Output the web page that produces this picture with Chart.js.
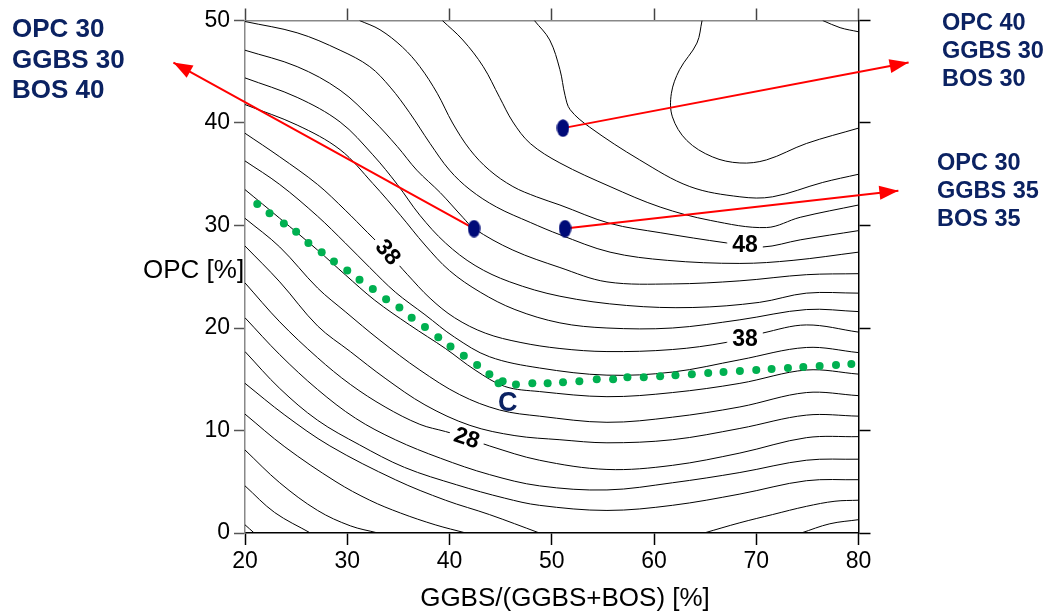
<!DOCTYPE html>
<html>
<head>
<meta charset="utf-8">
<script src="https://cdn.jsdelivr.net/npm/chart.js@4.4.1/dist/chart.umd.min.js"></script>
<style>
  html, body { margin: 0; padding: 0; background: #fff; }
  #wrap { position: relative; width: 1048px; height: 615px; }
</style>
</head>
<body>
<div id="wrap"><canvas id="chart" width="1048" height="615"></canvas></div>
<script>
// axis ticks
const xTickValues = [20, 30, 40, 50, 60, 70, 80];
const yTickValues = [0, 10, 20, 30, 40, 50];

// contour lines, step 2 as [GGBS share, OPC]
const c56 = [[76.5,50],[78.2,49.3],[80,48.9]];
const c54 = [[64.7,50],[64.2,47.8],[62.5,45.2],[61.7,42.9],[61.8,40.6],[63.2,38.3],[65.7,36.7],[68.4,36.1],[71.0,36.4],[74.9,38.0],[80,39.5]];
const c52 = [[48.3,50],[49.8,48.1],[50.8,45.2],[51.3,42.7],[51.8,41.3],[53.7,39.6],[58.6,36.4],[63.5,33.8],[68.4,32.8],[71.6,32.8],[76.5,34.2],[80,35.0]];
const c50 = [[39.3,50],[41.3,48.1],[43.3,45.5],[44.9,42.5],[46.2,40.1],[47.9,38.0],[50.8,36.1],[55.7,33.8],[60.6,31.8],[65.5,30.5],[71.0,29.8],[74.3,30.8],[80,32.0]];
const c48 = [[31.2,50],[33.2,49.1],[35.4,47.4],[37.1,45.5],[38.8,42.9],[40.3,40.0],[42.0,37.4],[43.9,35.4],[46.2,33.8],[48.5,32.8],[50.8,32.0],[55.7,30.2],[60.6,29.3],[67.1,28.3],[70.6,27.9],[74.3,28.6],[80,29.5]];
const c46 = [[20,49.9],[25.1,48.8],[29.3,47.1],[32.2,45.5],[34.2,43.5],[36.1,41.0],[38.1,38.0],[40.0,35.4],[42.0,33.5],[44.6,31.8],[47.9,30.3],[50.8,29.1],[55.7,27.4],[61.3,26.6],[68.4,26.3],[73.6,26.6],[80,27.4]];
const c44 = [[20,47.1],[25.1,45.5],[29.3,43.2],[32.5,40.3],[34.9,37.7],[36.8,35.4],[39.1,33.2],[41.3,30.8],[42.4,29.7],[46.2,27.6],[50.8,25.9],[55.4,24.5],[61.8,24.3],[68.4,24.6],[74.9,25.2],[80,25.3]];
const c42 = [[20,44.4],[25.1,42.5],[29.3,40.1],[32.5,36.9],[34.9,34.0],[37.1,31.0],[39.6,28.3],[42.5,26.1],[45.9,24.5],[50.8,23.1],[57.3,22.2],[63.8,22.0],[70.3,22.5],[74.9,23.4],[80,23.4]];
const c40 = [[20,41.8],[25.1,39.8],[29.3,37.4],[32.5,34.1],[35.2,31.0],[37.6,28.1],[40.0,25.6],[43.0,23.5],[46.4,21.8],[50.8,20.5],[55.4,20.0],[61.8,20.0],[68.4,20.8],[74.9,21.8],[80,21.6]];
const c38 = [[20,39.0],[23.4,36.7],[27.1,34.0],[29.8,31.5],[32.0,29.3],[34.0,27.3],[35.9,25.2],[38.1,22.9],[40.5,21.0],[43.5,19.5],[46.9,18.6],[50.8,18.0],[55.4,17.7],[61.8,17.9],[67.1,18.6],[70.6,19.5],[74.9,20.3],[80,19.6]];
const c36 = [[20,36.3],[23.4,34.0],[27.1,30.9],[29.8,28.3],[32.2,25.9],[34.7,23.5],[37.6,21.3],[40.5,19.1],[43.9,17.2],[48.8,16.1],[55.4,15.4],[61.8,15.7],[68.4,16.9],[74.9,18.1],[80,17.6]];
const c34 = [[20,33.5],[23.4,30.7],[27.1,27.6],[29.8,25.2],[32.7,22.7],[36.1,20.3],[39.6,18.0],[42.5,15.9],[45.4,14.3],[48.8,13.8],[55.4,13.3],[61.8,13.7],[68.4,14.6],[74.9,15.9],[80,15.5]];
const c32 = [[20,30.7],[23.4,27.9],[27.1,23.9],[29.8,21.6],[33.2,18.8],[37.1,15.9],[41.0,13.5],[44.9,12.0],[48.8,11.4],[55.4,10.8],[61.8,11.3],[68.4,12.3],[74.9,13.7],[80,13.4]];
const c30 = [[20,28.0],[23.4,24.5],[27.1,20.2],[30.3,17.7],[33.7,15.1],[37.6,12.5],[42.0,10.5],[46.4,9.5],[50.8,9.1],[55.4,8.8],[61.8,9.1],[68.4,10.2],[74.9,11.5],[80,11.4]];
const c28 = [[20,24.4],[23.4,20.6],[27.1,17.1],[30.3,14.5],[33.7,12.3],[37.1,10.6],[39.6,9.9],[41.7,9.3],[43.9,8.5],[48.8,7.1],[55.4,6.2],[61.8,6.6],[68.4,7.8],[74.9,9.3],[80,9.4]];
const c26 = [[20,21.0],[23.4,17.4],[27.1,14.0],[30.8,11.2],[34.7,9.1],[39.1,7.3],[43.9,5.7],[48.8,4.6],[55.4,4.2],[61.8,4.9],[68.4,5.9],[74.9,7.1],[80,7.2]];
const c24 = [[20,17.7],[23.4,14.1],[27.1,11.0],[31.2,8.6],[35.6,6.4],[40.7,4.7],[45.4,3.4],[48.8,2.7],[55.4,2.2],[61.8,2.7],[68.4,3.8],[74.9,5.1],[80,5.2]];
const c22a = [[20,14.6],[23.9,11.5],[28.3,8.5],[34.7,5.2],[39.6,3.2],[43.9,1.8],[48.8,0]];
const c22b = [[64.9,0],[68.4,1.0],[71.6,1.8],[74.9,2.6],[77.7,3.1],[80,3.2]];
const c20a = [[20,11.6],[23.9,8.4],[28.9,5.0],[32.2,3.2],[35.2,1.95],[38.6,0.8],[41.6,0]];
const c20b = [[74.4,0],[77.2,0.9],[80,1.3]];
const c18 = [[20,8.1],[23.4,4.9],[27.1,2.2],[30.3,0.7],[33.0,0]];
const c16 = [[20,4.6],[22.9,2.0],[26.4,0]];
const c14 = [[20,0.8],[20.9,0]];

const contours = [c56, c54, c52, c50, c48, c46, c44, c42, c40, c38, c36, c34, c32, c30,
                  c28, c26, c24, c22a, c22b, c20a, c20b, c18, c16, c14];

// contour value labels
const contourLabelText = ['48', '38', '38', '28'];
const contourLabelAt = [[68.9, 28.1], [68.9, 19.0], [34.0, 27.4], [41.7, 9.3]];

// green dotted line
const optimumLine = [[21.2,32.1],[22.4,31.2],[23.8,30.2],[25.0,29.4],[26.2,28.3],[27.5,27.4],[28.7,26.5],
  [30.0,25.6],[31.2,24.7],[32.5,23.8],[33.8,22.8],[35.1,22.0],[36.3,21.0],[37.6,20.1],[38.9,19.1],
  [40.1,18.2],[41.4,17.3],[42.7,16.4],[43.9,15.5],[44.8,14.6],[45.2,14.8],[46.5,14.5],[48.1,14.6],
  [49.6,14.6],[51.1,14.7],[52.7,14.8],[54.4,15.0],[56.0,15.0],[57.4,15.2],[59.0,15.2],[60.6,15.3],
  [62.1,15.4],[63.7,15.5],[65.3,15.6],[66.8,15.7],[68.4,15.8],[70.0,15.9],[71.5,16.0],[73.1,16.1],
  [74.6,16.2],[76.2,16.3],[77.8,16.4],[79.3,16.5]];
const optimumLabel = 'C';
const optimumLabelAt = [45.7, 12.6];

// mixes and their arrows
const mixPoints = [[42.4, 29.7], [51.1, 39.5], [51.3, 29.7]];
const arrowTips = [[13.0, 45.9], [84.9, 45.9], [83.9, 33.4]];
const mixNames = [['OPC 30', 'GGBS 30', 'BOS 40'], ['OPC 40', 'GGBS 30', 'BOS 30'], ['OPC 30', 'GGBS 35', 'BOS 35']];

const FONT = '"Liberation Sans", Arial, Helvetica, sans-serif';
const NAVY = '#0b2262';
Chart.defaults.font.family = FONT;

function ellipseMarker(w, h, color) {
  const c = document.createElement('canvas');
  c.width = w; c.height = h;
  const g = c.getContext('2d');
  g.fillStyle = color;
  g.beginPath();
  g.ellipse(w / 2, h / 2, w / 2 - 0.3, h / 2 - 0.3, 0, 0, Math.PI * 2);
  g.fill();
  return c;
}

const toXY = arr => arr.map(([x, y]) => ({ x, y }));

const datasets = [];
datasets.push({
  data: toXY(mixPoints),
  pointStyle: ellipseMarker(13, 18, '#000a78'),
  pointRadius: 9,
  pointBorderWidth: 0,
  order: 0
});
mixPoints.forEach((p, i) => {
  datasets.push({
    data: toXY([p, arrowTips[i]]),
    showLine: true, borderColor: '#ff0000', borderWidth: 2,
    pointRadius: 0, tension: 0, clip: false, order: 1
  });
});
datasets.push({
  data: toXY(optimumLine),
  pointRadius: 4, pointBackgroundColor: '#00b050', pointBorderWidth: 0,
  order: 2
});
contours.forEach(c => {
  datasets.push({
    data: toXY(c),
    showLine: true, borderColor: '#000', borderWidth: 1,
    pointRadius: 0, tension: 0.35, order: 3
  });
});

const labelAngles = [0, 0, 50, 18];

const annotate = {
  id: 'annotate',
  afterDatasetsDraw(chart) {
    const { ctx, scales: { x, y } } = chart;
    ctx.save();
    // contour labels, cut into their lines
    ctx.font = 'bold 23px ' + FONT;
    ctx.textAlign = 'center';
    ctx.textBaseline = 'middle';
    contourLabelText.forEach((t, i) => {
      const px = x.getPixelForValue(contourLabelAt[i][0]);
      const py = y.getPixelForValue(contourLabelAt[i][1]);
      const w = ctx.measureText(t).width;
      ctx.save();
      ctx.translate(px, py);
      ctx.rotate(labelAngles[i] * Math.PI / 180);
      ctx.fillStyle = '#fff';
      ctx.fillRect(-w / 2 - 5, -10, w + 10, 20);
      ctx.fillStyle = '#000';
      ctx.fillText(t, 0, 1);
      ctx.restore();
    });

    // optimum label
    ctx.font = 'bold 27px ' + FONT;
    ctx.fillStyle = NAVY;
    ctx.fillText(optimumLabel, x.getPixelForValue(optimumLabelAt[0]), y.getPixelForValue(optimumLabelAt[1]));

    // arrow heads
    ctx.fillStyle = '#ff0000';
    mixPoints.forEach((p, i) => {
      const x0 = x.getPixelForValue(p[0]), y0 = y.getPixelForValue(p[1]);
      const x1 = x.getPixelForValue(arrowTips[i][0]), y1 = y.getPixelForValue(arrowTips[i][1]);
      const a = Math.atan2(y1 - y0, x1 - x0);
      const L = 19, W = 7;
      const bx = x1 - L * Math.cos(a), by = y1 - L * Math.sin(a);
      ctx.beginPath();
      ctx.moveTo(x1, y1);
      ctx.lineTo(bx - W * Math.sin(a), by + W * Math.cos(a));
      ctx.lineTo(bx + W * Math.sin(a), by - W * Math.cos(a));
      ctx.closePath();
      ctx.fill();
    });
    ctx.restore();
  },
  afterDraw(chart) {
    const { ctx } = chart;
    ctx.save();
    ctx.fillStyle = '#000';
    ctx.font = '26px ' + FONT;
    ctx.textBaseline = 'alphabetic';
    ctx.textAlign = 'left';
    ctx.fillText('OPC [%]', 143, 278);
    ctx.textAlign = 'center';
    ctx.fillText('GGBS/(GGBS+BOS) [%]', 565, 606);

    // mix names
    ctx.fillStyle = NAVY;
    ctx.textAlign = 'left';
    ctx.font = 'bold 26px ' + FONT;
    mixNames[0].forEach((t, i) => ctx.fillText(t, 12, 37 + i * 30.5));
    ctx.font = 'bold 23.5px ' + FONT;
    mixNames[1].forEach((t, i) => ctx.fillText(t, 942, 30 + i * 28));
    mixNames[2].forEach((t, i) => ctx.fillText(t, 937, 170 + i * 28));
    ctx.restore();
  }
};

const setTicks = vals => scale => { scale.ticks = vals.map(v => ({ value: v })); };

new Chart(document.getElementById('chart'), {
  type: 'scatter',
  data: { datasets },
  options: {
    responsive: false,
    animation: false,
    events: [],
    layout: { padding: { left: 0, right: 177.5, top: 8.5, bottom: 0 } },
    plugins: { legend: { display: false }, tooltip: { enabled: false } },
    scales: {
      x: {
        type: 'linear', position: 'bottom', min: 20, max: 80,
        afterBuildTicks: setTicks(xTickValues),
        afterFit: s => { s.height = 82; },
        ticks: { color: '#000', font: { size: 23 }, padding: 3 },
        grid: { drawOnChartArea: false, tickLength: 12, tickColor: '#000', tickWidth: 1.5 },
        border: { color: '#000', width: 1.5 }
      },
      x2: {
        type: 'linear', position: 'top', min: 20, max: 80,
        afterBuildTicks: setTicks(xTickValues),
        afterFit: s => { s.height = 12; },
        ticks: { display: false },
        grid: { drawOnChartArea: false, tickLength: 12, tickColor: '#444', tickWidth: 1.5 },
        border: { color: '#888', width: 1.5 }
      },
      y: {
        type: 'linear', position: 'left', min: 0, max: 50,
        afterBuildTicks: setTicks(yTickValues),
        afterFit: s => { s.width = 245; },
        ticks: { color: '#000', font: { size: 23 }, padding: 4 },
        grid: { drawOnChartArea: false, tickLength: 11, tickColor: '#555', tickWidth: 1.5 },
        border: { color: '#888', width: 1.5 }
      },
      y2: {
        type: 'linear', position: 'right', min: 0, max: 50,
        afterBuildTicks: setTicks(yTickValues),
        afterFit: s => { s.width = 12; },
        ticks: { display: false },
        grid: { drawOnChartArea: false, tickLength: 12, tickColor: '#000', tickWidth: 1.5 },
        border: { color: '#000', width: 1.5 }
      }
    }
  },
  plugins: [annotate]
});
</script>
</body>
</html>
